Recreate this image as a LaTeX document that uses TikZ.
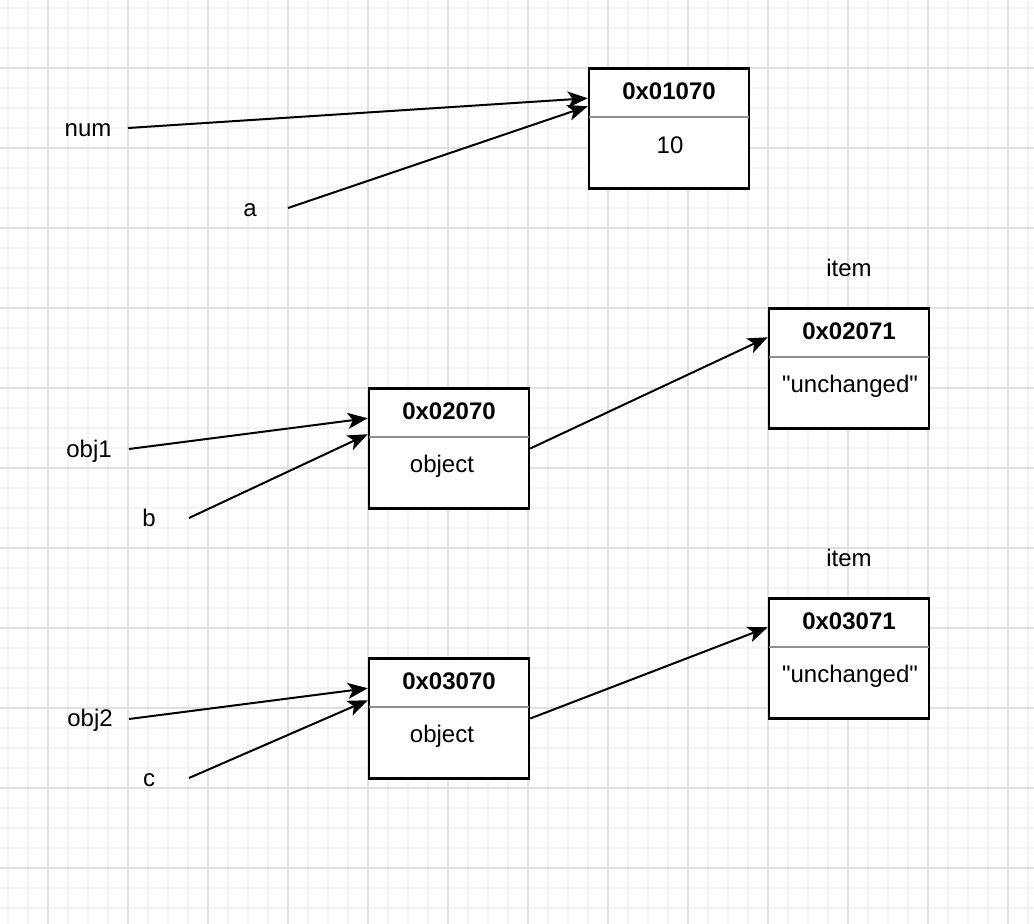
\documentclass[tikz,border=0pt]{standalone}
\usepackage{fontspec}
\setmainfont{Liberation Sans}[Ligatures=TeXOff]
\usetikzlibrary{arrows.meta,calc}
\definecolor{gmin}{HTML}{F3F3F3}
\definecolor{gmaj}{HTML}{E0E0E0}
\definecolor{divc}{HTML}{919191}
\begin{document}
\begin{tikzpicture}[x=0.5pt,y=-0.5pt,
  lbl/.style={font=\fontsize{12}{14}\selectfont, inner sep=0pt, anchor=base},
  hdr/.style={lbl, font=\fontsize{12}{14}\selectfont\bfseries},
  mem/.style={draw, line width=1.25pt, minimum width=80pt, minimum height=60pt, inner sep=0pt, fill=white},
  ptr/.style={line width=1pt, -{Stealth[length=10pt,width=8pt,inset=2.5pt]}},
  divider/.style={draw=divc, line width=0.75pt},
  gminor/.style={draw=gmin, line width=1pt},
  gmajor/.style={draw=gmaj, line width=1pt}]
\useasboundingbox (0,0) rectangle (1034,924);
\fill[white] (0,0) rectangle (1034,924);
% grid
\foreach \x in {8,28,...,1028} \draw[gminor] (\x,0) -- (\x,924);
\foreach \y in {8,28,...,920} \draw[gminor] (0,\y) -- (1034,\y);
\foreach \x in {48,128,...,1028} \draw[gmajor] (\x,0) -- (\x,924);
\foreach \y in {68,148,...,920} \draw[gmajor] (0,\y) -- (1034,\y);

% memory boxes
\node[mem] (b1) at (669,128.5) {};
\node[mem] (b2) at (449,448.5) {};
\node[mem] (i1) at (849,368.5) {};
\node[mem] (b3) at (449,718.5) {};
\node[mem] (i2) at (849,658.5) {};
\foreach \n in {b1,b2,i1,b3,i2}
  \draw[divider] ($(\n.north west)+(1,50)$) -- ($(\n.north east)+(-1,50)$);

% box texts
\node[hdr] (h1) at (669,100) {0x01070};
\node[lbl] (v1) at (670,154) {10};
\node[hdr] (h2) at (449,420) {0x02070};
\node[lbl] (v2) at (442,473) {object};
\node[hdr] (h3) at (849,340) {0x02071};
\node[lbl] (v3) at (850,393) {"unchanged"};
\node[lbl] (t3) at (849,277) {item};
\node[hdr] (h4) at (449,690) {0x03070};
\node[lbl] (v4) at (442,743) {object};
\node[hdr] (h5) at (849,630) {0x03071};
\node[lbl] (v5) at (850,683) {"unchanged"};
\node[lbl] (t5) at (849,567) {item};

% variable labels
\node[lbl] (num) at (88,137) {num};
\node[lbl] (a) at (250,217) {a};
\node[lbl] (obj1) at (89,458) {obj1};
\node[lbl] (b) at (149,527) {b};
\node[lbl] (obj2) at (90,727) {obj2};
\node[lbl] (c) at (149,787) {c};

\coordinate (num-o) at (128,128);
\coordinate (a-o) at (288,208);
\coordinate (obj1-o) at (129,449);
\coordinate (b-o) at (189,518);
\coordinate (obj2-o) at (129,719);
\coordinate (c-o) at (189,778);

% pointers
\draw[ptr] (num-o) -- ($(b1.north west)+(0,31)$);
\draw[ptr] (a-o) -- ($(b1.north west)+(0,39)$);
\draw[ptr] (obj1-o) -- ($(b2.north west)+(0,31)$);
\draw[ptr] (b-o) -- ($(b2.north west)+(0,47)$);
\draw[ptr] (obj2-o) -- ($(b3.north west)+(0,31)$);
\draw[ptr] (c-o) -- ($(b3.north west)+(0,43)$);
\draw[ptr] (b2.east) -- ($(i1.north west)+(0,30)$);
\draw[ptr] (b3.east) -- ($(i2.north west)+(0,30)$);
\end{tikzpicture}
\end{document}
